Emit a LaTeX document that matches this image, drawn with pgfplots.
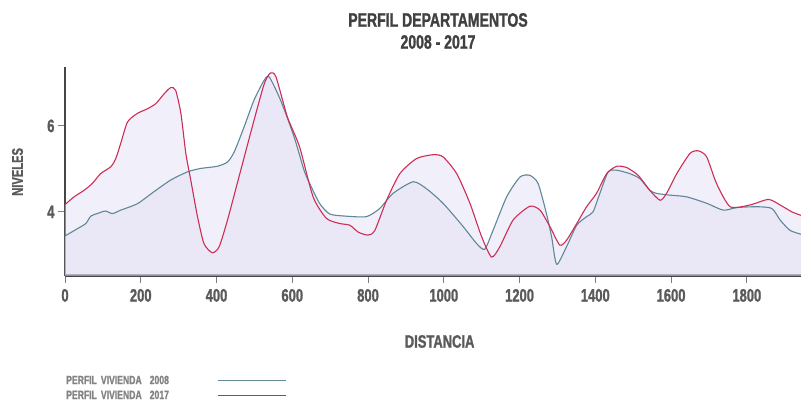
\documentclass[border=0pt]{standalone}
\usepackage{fontspec}
\setmainfont{Liberation Sans}
\newfontfamily\cond{Liberation Sans}[FakeStretch=0.72, BoldFeatures={FakeBold=1.3}]
\usepackage{pgfplots}
\usepackage{pgfplotstable}
\pgfplotsset{compat=1.18}
\definecolor{c2008}{RGB}{95,135,150}
\definecolor{c2017}{RGB}{205,45,85}
\definecolor{lav}{RGB}{225,222,244}
\definecolor{axgray}{RGB}{70,70,70}
\definecolor{txtgray}{RGB}{90,90,90}

\pgfplotstableread{
x y
0 3.44
33 3.61
55 3.73
68 3.90
85 3.96
107 4.02
125 3.96
147 4.04
191 4.19
235 4.47
279 4.74
323 4.93
358 5.01
402 5.06
429 5.16
447 5.40
473 5.98
499 6.60
525 7.05
539 7.14
569 6.60
605 5.74
631 4.97
646 4.66
672 4.20
699 3.95
743 3.90
796 3.89
831 4.08
866 4.43
919 4.70
954 4.54
998 4.20
1051 3.66
1086 3.27
1108 3.13
1130 3.57
1166 4.35
1201 4.81
1227 4.85
1249 4.66
1271 3.96
1285 3.40
1298 2.78
1324 3.19
1351 3.69
1377 3.89
1394 4.00
1412 4.43
1434 4.93
1456 4.97
1491 4.89
1518 4.77
1544 4.50
1562 4.43
1597 4.39
1641 4.35
1694 4.20
1738 4.04
1773 4.10
1826 4.12
1866 4.08
1888 3.81
1914 3.57
1943 3.48
}\dataA

\pgfplotstableread{
x y
0 4.17
24 4.35
50 4.50
72 4.66
94 4.89
121 5.05
134 5.24
147 5.59
165 6.09
191 6.29
218 6.40
240 6.52
262 6.75
279 6.89
292 6.83
306 6.29
319 5.36
332 4.74
350 3.88
367 3.26
389 3.05
407 3.19
429 3.81
464 4.97
499 6.13
526 6.98
542 7.23
557 7.14
587 6.21
619 5.52
655 4.35
690 3.85
725 3.73
752 3.69
774 3.53
800 3.46
818 3.57
849 4.27
884 4.89
928 5.24
972 5.33
998 5.28
1034 4.89
1069 4.20
1100 3.42
1126 2.95
1148 3.19
1183 3.81
1227 4.13
1254 4.04
1280 3.66
1306 3.23
1324 3.34
1351 3.73
1377 4.12
1403 4.43
1430 4.89
1456 5.06
1483 5.03
1513 4.85
1544 4.50
1571 4.27
1588 4.43
1615 4.89
1650 5.36
1672 5.42
1694 5.28
1720 4.66
1756 4.12
1808 4.16
1857 4.29
1888 4.16
1919 4.00
1943 3.92
}\dataB

\begin{document}
\begin{tikzpicture}
\useasboundingbox (-65pt,-124.5pt) rectangle (736pt,275.5pt);
\begin{axis}[
  at={(0pt,0pt)}, anchor=south west,
  scale only axis, width=736pt, height=208.5pt,
  xmin=0, xmax=1943, ymin=2.52, ymax=7.37,
  axis lines*=left,
  axis line style={axgray, line width=2.2pt},
  xtick={0,200,...,1800}, ytick={4,6},
  tick align=outside,
  major tick length=7pt,
  tick style={axgray!70, line width=0.8pt},
  /pgf/number format/assume math mode=true,
  /pgf/number format/1000 sep={},
  tick label style={font=\cond\bfseries\fontsize{18}{18}\selectfont, text=txtgray},
  xticklabel style={yshift=-3pt},
  xlabel={DISTANCIA},
  xlabel style={font=\cond\bfseries\fontsize{18}{18}\selectfont, text=txtgray, at={(axis description cs:0.509,0)}, anchor=center, yshift=-66pt},
  ylabel={NIVELES},
  ylabel style={font=\cond\bfseries\fontsize{15.5}{15.5}\selectfont, text=txtgray, at={(axis description cs:0,0.497)}, anchor=center, yshift=47.5pt},
  clip=true,
  legend plot pos=right,
  legend style={at={(axis description cs:0,-0.475)}, anchor=north west, draw=none, fill=none,
    font=\cond\bfseries\fontsize{12}{12}\selectfont, text=txtgray!75,
    row sep=3pt, inner sep=0pt,
    nodes={anchor=west, text width=150pt, inner sep=1pt}},
  legend image code/.code={\draw[#1] (0pt,0pt) -- (68pt,0pt);},
  legend cell align=left,
]
\addplot[draw=none, fill=lav, fill opacity=0.45, smooth, tension=0.4, forget plot] table[x=x,y=y]{\dataA} \closedcycle;
\addplot[draw=none, fill=lav, fill opacity=0.45, smooth, tension=0.4, forget plot] table[x=x,y=y]{\dataB} \closedcycle;
\addplot[c2008, line width=1.1pt, smooth, tension=0.4] table[x=x,y=y]{\dataA};
\addlegendentry{PERFIL VIVIENDA\ \ 2008}
\addplot[c2017, line width=1.1pt, smooth, tension=0.4] table[x=x,y=y]{\dataB};
\addlegendentry{PERFIL VIVIENDA\ \ 2017}
\end{axis}
\node[font=\cond\bfseries\fontsize{19.5}{19.5}\selectfont, text=black!75] at (373pt,255.5pt) {PERFIL DEPARTAMENTOS};
\node[font=\cond\bfseries\fontsize{19.5}{19.5}\selectfont, text=black!75] at (373pt,233.5pt) {2008 - 2017};
\end{tikzpicture}
\end{document}
